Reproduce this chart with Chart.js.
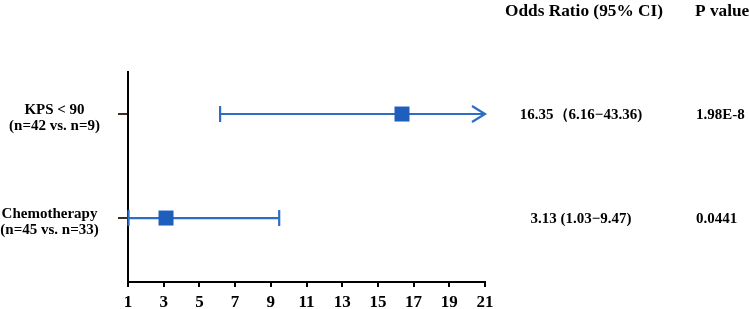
<!DOCTYPE html>
<html>
<head>
<meta charset="utf-8">
<script src="https://cdn.jsdelivr.net/npm/chart.js@4/dist/chart.umd.min.js"></script>
<style>
  html, body { margin: 0; padding: 0; background: #ffffff; }
  #wrap { width: 750px; height: 309px; }
</style>
</head>
<body>
<div id="wrap"><canvas id="c" width="750" height="309"></canvas></div>
<script>
// ---- data ----
const categories = ['KPS < 90', 'Chemotherapy'];
const subLabels = ['(n=42 vs. n=9)', '(n=45 vs. n=33)'];
const rowPos = [2, 1];
const oddsRatio = [16.35, 3.13];
const ciLower = [6.16, 1.03];
const ciUpper = [43.36, 9.47];
const ciText = ['16.35\uFF086.16\u221243.36)', '3.13 (1.03\u22129.47)'];
const pValues = ['1.98E-8', '0.0441'];
const xTicks = [1, 3, 5, 7, 9, 11, 13, 15, 17, 19, 21];
const headers = ['Odds Ratio (95% CI)', 'P value'];

const FONT = '"Liberation Serif", "Times New Roman", serif';
const LINE_COLOR = '#2c6dc6';
const MARK_COLOR = '#1e5ebc';

const forestPlugin = {
  id: 'forest',
  beforeDatasetsDraw(chart) {
    const ctx = chart.ctx;
    const xs = chart.scales.x, ys = chart.scales.y;
    ctx.save();
    ctx.strokeStyle = LINE_COLOR;
    ctx.lineWidth = 2.2;
    for (let i = 0; i < oddsRatio.length; i++) {
      const y = ys.getPixelForValue(rowPos[i]);
      const lo = Math.max(ciLower[i], xs.min);
      const hi = Math.min(ciUpper[i], xs.max);
      const xl = xs.getPixelForValue(lo);
      const xh = xs.getPixelForValue(hi);
      ctx.beginPath();
      ctx.moveTo(xl, y); ctx.lineTo(xh, y);
      ctx.stroke();
      // lower cap
      ctx.beginPath();
      ctx.moveTo(xl, y - 8); ctx.lineTo(xl, y + 8);
      ctx.stroke();
      if (ciUpper[i] <= xs.max) {
        ctx.beginPath();
        ctx.moveTo(xh, y - 8); ctx.lineTo(xh, y + 8);
        ctx.stroke();
      } else {
        ctx.beginPath();
        ctx.moveTo(xh - 13, y - 8); ctx.lineTo(xh, y); ctx.lineTo(xh - 13, y + 8);
        ctx.stroke();
      }
    }
    ctx.restore();
  },
  afterDraw(chart) {
    const ctx = chart.ctx;
    const ys = chart.scales.y;
    ctx.save();
    ctx.fillStyle = '#000';
    ctx.textBaseline = 'middle';
    // headers
    ctx.font = 'bold 17.3px ' + FONT;
    ctx.textAlign = 'center';
    ctx.fillText(headers[0], 584, 12);
    ctx.textAlign = 'left';
    ctx.fillText(headers[1], 695, 12);
    // right columns
    ctx.font = 'bold 15px ' + FONT;
    for (let i = 0; i < ciText.length; i++) {
      const y = ys.getPixelForValue(rowPos[i]) + 1;
      ctx.textAlign = 'center';
      ctx.fillText(ciText[i], 581, y);
      ctx.textAlign = 'left';
      ctx.fillText(pValues[i], 696, y);
    }
    // category labels
    const centers = [54.5, 49.5];
    for (let i = 0; i < categories.length; i++) {
      const y = ys.getPixelForValue(rowPos[i]);
      ctx.textAlign = 'center';
      ctx.fillText(categories[i], centers[i], y - 4);
      ctx.fillText(subLabels[i], centers[i], y + 12);
    }
    ctx.restore();
  }
};

new Chart(document.getElementById('c'), {
  type: 'scatter',
  data: {
    datasets: [{
      data: oddsRatio.map((v, i) => ({ x: v, y: rowPos[i] })),
      pointStyle: 'rect',
      pointRadius: 10.6,
      pointHoverRadius: 10.6,
      backgroundColor: MARK_COLOR,
      borderColor: MARK_COLOR,
      borderWidth: 0
    }]
  },
  options: {
    responsive: false,
    devicePixelRatio: 1,
    animation: false,
    events: [],
    layout: { padding: { top: 72, right: 265, left: 0, bottom: 0 } },
    plugins: { legend: { display: false }, tooltip: { enabled: false } },
    scales: {
      x: {
        type: 'linear',
        min: xTicks[0],
        max: xTicks[xTicks.length - 1],
        afterBuildTicks: (s) => { s.ticks = xTicks.map(v => ({ value: v })); },
        afterFit: (s) => { s.height = 27; },
        ticks: {
          color: '#000',
          font: { family: FONT, size: 17, weight: 'bold' },
          padding: 5,
          maxRotation: 0,
          autoSkip: false
        },
        grid: { drawOnChartArea: false, drawTicks: true, tickLength: 5, color: '#000', lineWidth: 2 },
        border: { color: '#000', width: 2 }
      },
      y: {
        type: 'linear',
        min: 0.385,
        max: 2.404,
        afterBuildTicks: (s) => { s.ticks = rowPos.map(v => ({ value: v })); },
        afterFit: (s) => { s.width = 128; },
        ticks: { callback: () => '', padding: 0 },
        grid: { drawOnChartArea: false, drawTicks: true, tickLength: 10, color: '#3b2b22', lineWidth: 2 },
        border: { color: '#000', width: 2 }
      }
    }
  },
  plugins: [forestPlugin]
});
</script>
</body>
</html>
